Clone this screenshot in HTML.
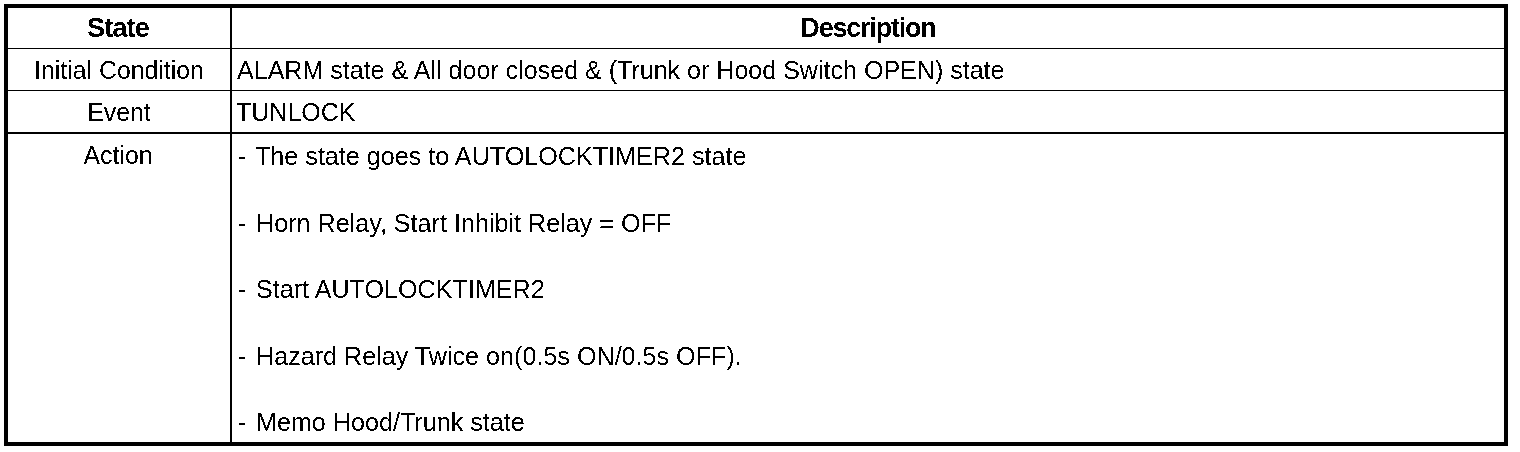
<!DOCTYPE html>
<html>
<head>
<meta charset="utf-8">
<style>
html,body{margin:0;padding:0;background:#fff;}
body{width:1520px;height:452px;position:relative;overflow:hidden;font-family:"Liberation Sans",sans-serif;color:#000;}
.b{position:absolute;background:#000;}
.t{position:absolute;font-size:25px;line-height:25px;white-space:nowrap;}
.wrap{position:absolute;left:0;top:0;width:1520px;height:452px;will-change:transform;}
.txt{position:absolute;left:0;top:0;width:1520px;height:452px;filter:url(#bin);}
.c{text-align:center;}
.bold{font-weight:bold;}
</style>
</head>
<body>
<svg width="0" height="0" style="position:absolute;left:0;top:0"><filter id="bin" x="0" y="0" width="1" height="1" filterUnits="objectBoundingBox"><feComponentTransfer><feFuncA type="discrete" tableValues="0 1"/></feComponentTransfer></filter></svg>
<div class="wrap">
<!-- outer border -->
<div class="b" style="left:4px;top:4px;width:1504px;height:4px;"></div>
<div class="b" style="left:4px;top:442px;width:1504px;height:4px;"></div>
<div class="b" style="left:4px;top:4px;width:4px;height:442px;"></div>
<div class="b" style="left:1504px;top:4px;width:4px;height:442px;"></div>
<!-- column divider -->
<div class="b" style="left:230px;top:8px;width:2px;height:434px;"></div>
<!-- row lines -->
<div class="b" style="left:8px;top:48px;width:1496px;height:1px;"></div>
<div class="b" style="left:8px;top:90px;width:1496px;height:1px;"></div>
<div class="b" style="left:8px;top:132px;width:1496px;height:2px;"></div>
<div class="txt">
<!-- header -->
<div class="t c bold" style="left:7px;width:222px;top:16px;font-size:27px;letter-spacing:-0.8px;">State</div>
<div class="t c bold" style="left:232px;width:1272px;top:16px;font-size:27px;letter-spacing:-1.2px;">Description</div>

<div class="t c" style="left:8px;width:222px;font-size:24.85px;top:58px;">Initial Condition</div>
<div class="t" style="left:237px;font-size:25.05px;top:58px;">ALARM state &amp; All door closed &amp; (Trunk or Hood Switch OPEN) state</div>

<div class="t c" style="left:8px;width:222px;font-size:24.85px;top:100px;">Event</div>
<div class="t" style="left:236px;top:100px;">TUNLOCK</div>

<div class="t c" style="left:7px;width:222px;font-size:24.85px;top:143px;">Action</div>
<div class="t" style="left:238px;top:144px;">-</div><div class="t" style="left:255px;font-size:25.15px;top:144px;">The state goes to AUTOLOCKTIMER2 state</div>
<div class="t" style="left:238px;top:211px;">-</div><div class="t" style="left:256px;font-size:25.15px;top:211px;">Horn Relay, Start Inhibit Relay = OFF</div>
<div class="t" style="left:238px;top:277px;">-</div><div class="t" style="left:256px;font-size:25.15px;top:277px;">Start AUTOLOCKTIMER2</div>
<div class="t" style="left:238px;top:344px;">-</div><div class="t" style="left:256px;font-size:25.15px;top:344px;">Hazard Relay Twice on(0.5s ON/0.5s OFF).</div>
<div class="t" style="left:238px;top:410px;">-</div><div class="t" style="left:256px;font-size:25.15px;top:410px;">Memo Hood/Trunk state</div>
</div>
</div>
</body>
</html>
